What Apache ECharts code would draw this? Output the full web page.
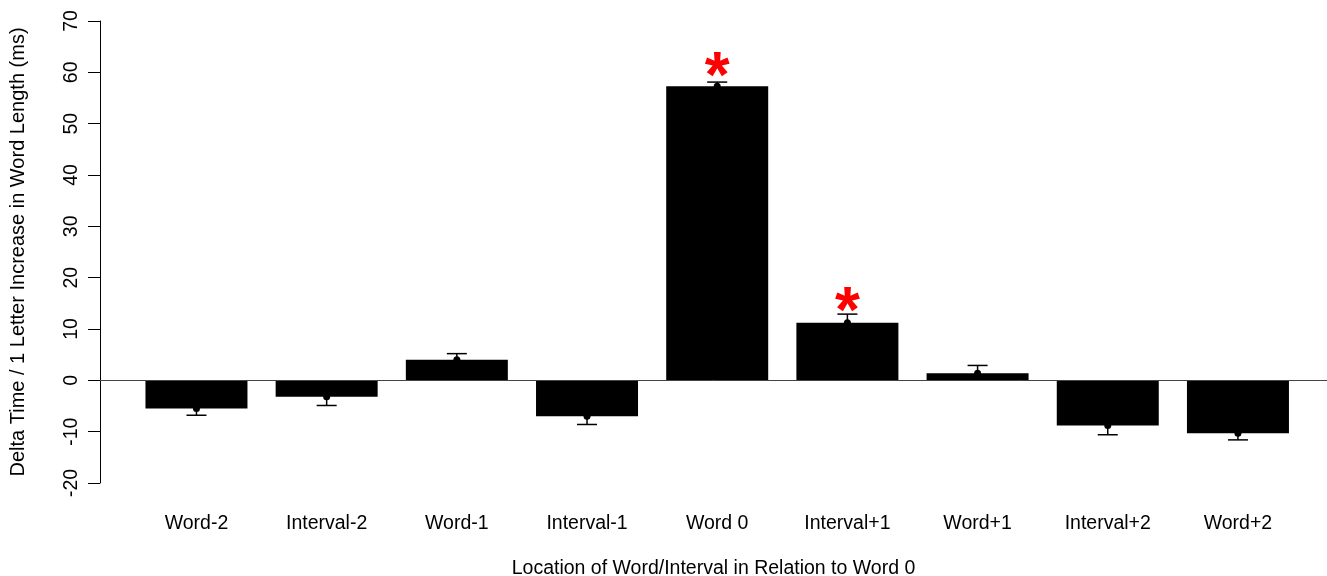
<!DOCTYPE html>
<html>
<head>
<meta charset="utf-8">
<script src="https://cdn.jsdelivr.net/npm/echarts@6/dist/echarts.min.js"></script>
<style>
html,body{margin:0;padding:0;background:#fff;}
#chart{width:1327px;height:576px;}
</style>
</head>
<body>
<div id="chart"></div>
<script>
const categories = ['Word-2','Interval-2','Word-1','Interval-1','Word 0','Interval+1','Word+1','Interval+2','Word+2'];
const means = [-5.5, -3.2, 4.0, -7.0, 57.3, 11.2, 1.4, -8.8, -10.3];
const errorEnds = [-6.8, -4.9, 5.2, -8.6, 58.1, 12.9, 2.9, -10.6, -11.6];
const starIndex = [4, 5];
const starY = [61.1, 15.4];
const yTicks = [-20, -10, 0, 10, 20, 30, 40, 50, 60, 70];

const FONT = 'Liberation Sans, Arial, Helvetica, sans-serif';
const chart = echarts.init(document.getElementById('chart'), null, {renderer: 'canvas'});

const barData = means.map((v, i) => [i, v]);
const errData = means.map((v, i) => [i, v, errorEnds[i]]);
const starData = starIndex.map((idx, k) => [idx, starY[k]]);
const STAR_SIZE = 64;

chart.setOption({
  animation: false,
  backgroundColor: '#ffffff',
  grid: {left: 100, right: 0, top: 21, bottom: 93, containLabel: false, outerBoundsMode: 'none'},
  xAxis: {
    type: 'value',
    min: -0.741,
    max: 8.684,
    axisLine: {show: false, onZero: false},
    axisTick: {show: false},
    splitLine: {show: false},
    axisLabel: {
      customValues: categories.map((c, i) => i),
      formatter: v => categories[Math.round(v)] || '',
      fontSize: 19.5, color: '#000', fontFamily: FONT, margin: 31
    },
    name: 'Location of Word/Interval in Relation to Word 0',
    nameLocation: 'middle',
    nameGap: 76,
    nameTextStyle: {fontSize: 19.5, color: '#000', fontFamily: FONT}
  },
  yAxis: {
    type: 'value',
    min: -20, max: 70, interval: 10,
    axisLine: {show: true, onZero: false, lineStyle: {color: '#000', width: 1}},
    axisTick: {show: true, length: 12, lineStyle: {color: '#000', width: 1}},
    splitLine: {show: false},
    axisLabel: {
      rotate: 90, fontSize: 19.5, color: '#000', fontFamily: FONT, margin: 18,
      customValues: yTicks
    },
    name: 'Delta Time / 1 Letter Increase in Word Length (ms)',
    nameLocation: 'middle',
    nameRotate: 90,
    nameGap: 72,
    nameTextStyle: {fontSize: 20, color: '#000', fontFamily: FONT}
  },
  series: [
    {
      type: 'bar',
      data: barData,
      barWidth: 102,
      itemStyle: {color: '#000'},
      markLine: {
        silent: true,
        symbol: 'none',
        label: {show: false},
        lineStyle: {color: '#444', width: 1, type: 'solid'},
        data: [{yAxis: 0}]
      }
    },
    {
      type: 'custom',
      data: errData,
      z: 5,
      renderItem: function (params, api) {
        const x = api.value(0);
        const p0 = api.coord([x, api.value(1)]);
        const p1 = api.coord([x, api.value(2)]);
        const capHalf = 10;
        return {
          type: 'group',
          children: [
            {type: 'line', shape: {x1: p0[0], y1: p0[1], x2: p1[0], y2: p1[1]}, style: {stroke: '#000', lineWidth: 1.5}},
            {type: 'line', shape: {x1: p1[0] - capHalf, y1: p1[1], x2: p1[0] + capHalf, y2: p1[1]}, style: {stroke: '#000', lineWidth: 1.5}},
            {type: 'circle', shape: {cx: p0[0], cy: p0[1], r: 3.5}, style: {fill: '#000'}}
          ]
        };
      }
    },
    {
      type: 'custom',
      data: starData,
      z: 6,
      renderItem: function (params, api) {
        const p = api.coord([api.value(0), api.value(1)]);
        return {
          type: 'text',
          x: p[0], y: p[1] + STAR_SIZE * 0.2,
          style: {
            text: '*', fill: '#ff0000',
            font: 'bold ' + STAR_SIZE + 'px ' + FONT,
            align: 'center', verticalAlign: 'middle'
          }
        };
      }
    }
  ]
});
</script>
</body>
</html>
